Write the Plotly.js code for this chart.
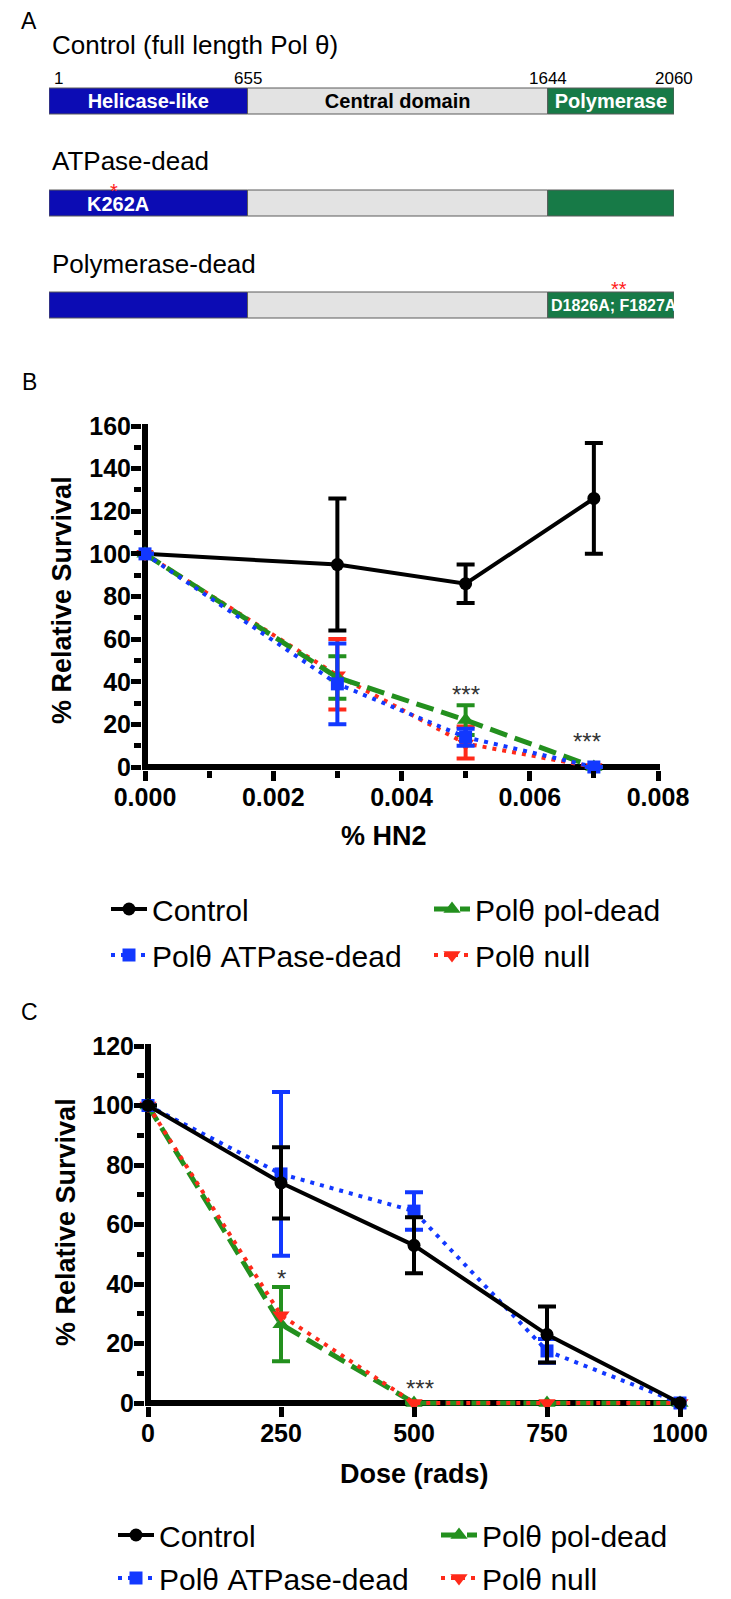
<!DOCTYPE html>
<html><head><meta charset="utf-8">
<script src="https://cdn.plot.ly/plotly-3.0.1.min.js"></script>
<style>html,body{margin:0;padding:0;background:#fff}</style>
</head><body><div id="chart" style="width:731px;height:1599px"></div>
<script>
// ---------- Panel A data ----------
const constructs = ['Control (full length Pol θ)', 'ATPase-dead', 'Polymerase-dead'];
const domainNames = ['Helicase-like', 'Central domain', 'Polymerase'];
const domainStart = [1, 655, 1644];
const domainEnd = [655, 1644, 2060];
const boundaryTicks = [1, 655, 1644, 2060];
const mutationLabels = ['K262A', 'D1826A; F1827A'];
const mutationResidue = [262, 1826];
const mutationStars = ['*', '**'];
const mutationConstruct = ['ATPase-dead', 'Polymerase-dead'];

// ---------- Panel B data (% HN2) ----------
const seriesNames = ['Control', 'Polθ pol-dead', 'Polθ ATPase-dead', 'Polθ null'];
const hn2Dose = [0, 0.003, 0.005, 0.007];
const hn2Control = [100, 95, 86, 126];
const hn2ControlErr = [null, 31, 9, 26];
const hn2AtpDead = [100, 39, 14, 0];
const hn2AtpDeadErr = [null, 19, 4, null];
const hn2PolDead = [100, 42, 22, 0];
const hn2PolDeadErr = [null, 10, 7, null];
const hn2Null = [100, 43, 11, 0];
const hn2NullErrPlus = [null, 17, 8, null];
const hn2NullErrMinus = [null, 16, 7, null];
const hn2StarText = ['***', '***'];
const hn2StarDose = [0.005, 0.0069];
const hn2StarY = [37, 15];

// ---------- Panel C data (Dose, rads) ----------
const irDose = [0, 250, 500, 750, 1000];
const irControl = [100, 74, 53, 23, 0];
const irControlErr = [null, 12, 9.4, 9.4, null];
const irAtpDead = [100, 77, 64.5, 17.5, 0];
const irAtpDeadErr = [null, 27.5, 6.3, 4, null];
const irPolDead = [100, 26.5, 0, 0, 0];
const irPolDeadErr = [null, 12.5, null, null, null];
const irNull = [100, 29.5, 0, 0, 0];
const irStarText = ['*', '***'];
const irStarDose = [250, 512];
const irStarY = [44, 7];

// ---------- layout helpers ----------
const W = 731, H = 1599;
const FONT = 'Liberation Sans, Arial, Helvetica, sans-serif';
function xDom(p0, p1, v0, v1, padLo, padHi) {
  const k = (p1 - p0) / (v1 - v0);
  return { domain: [(p0 - padLo) / W, (p1 + padHi) / W], range: [v0 - padLo / k, v1 + padHi / k] };
}
function yDom(pBottom, pTop, v0, v1, padLo, padHi) {
  const k = (pBottom - pTop) / (v1 - v0);
  return { domain: [1 - (pBottom + padLo) / H, 1 - (pTop - padHi) / H], range: [v0 - padLo / k, v1 + padHi / k] };
}
function chartAxis(geom, extra) {
  return Object.assign({
    domain: geom.domain, range: geom.range, autorange: false, fixedrange: true,
    showgrid: false, showline: false, zeroline: true, zerolinewidth: 6, zerolinecolor: '#000',
    ticks: 'outside', ticklen: 10, tickwidth: 5, tickcolor: '#000', ticklabelstandoff: -5,
    tickfont: { family: FONT, size: 25, color: '#000', weight: 'bold' }
  }, extra);
}
const minorTicks = (dt) => ({ dtick: dt, ticks: 'outside', ticklen: 7, tickwidth: 5, tickcolor: '#000' });

const styles = {
  control: { color: '#000000', width: 4, dash: 'solid' },
  atp: { color: '#1238ff', width: 4, dash: '4px,6px' },
  pol: { color: '#23901e', width: 5, dash: '18px,8px' },
  nul: { color: '#ff2a1a', width: 4, dash: '4px,6px' }
};
function series(name, x, y, errP, errM, st, symbol, size, xa, ya, legend, rank) {
  const t = {
    type: 'scatter', mode: 'lines+markers', name: name, x: x, y: y, xaxis: xa, yaxis: ya,
    legend: legend, legendrank: rank,
    line: { color: st.color, width: st.width, dash: st.dash },
    marker: { symbol: symbol, size: size, color: st.color },
    cliponaxis: false, hoverinfo: 'skip'
  };
  if (errP) {
    t.error_y = { type: 'data', array: errP, arrayminus: errM || errP, symmetric: !errM,
      color: st.color, thickness: 4, width: 9 };
  }
  return t;
}

const traces = [];
// Panel A: domain bars
const domainColors = ['#0c0cb4', '#e3e3e3', '#177a47'];
const domainTextColors = ['#ffffff', '#000000', '#ffffff'];
for (let d = 0; d < domainNames.length; d++) {
  traces.push({
    type: 'bar', orientation: 'h', xaxis: 'x3', yaxis: 'y3', showlegend: false,
    y: constructs, base: constructs.map(() => domainStart[d]),
    x: constructs.map(() => domainEnd[d] - domainStart[d]),
    width: 0.255,
    marker: { color: domainColors[d], line: { color: '#5a5a5a', width: 1 } },
    text: constructs.map((c, i) => i === 0 ? domainNames[d] : ''),
    textposition: 'inside', insidetextanchor: 'middle', constraintext: 'none',
    textfont: { family: FONT, size: 20, color: domainTextColors[d], weight: 'bold' },
    hoverinfo: 'skip'
  });
}

// Panel B traces (draw order: control, null, pol-dead, ATPase-dead)
traces.push(series(seriesNames[0], hn2Dose, hn2Control, hn2ControlErr, null, styles.control, 'circle', 13, 'x', 'y', 'legend', 1));
traces.push(series(seriesNames[3], hn2Dose, hn2Null, hn2NullErrPlus, hn2NullErrMinus, styles.nul, 'triangle-down', 15, 'x', 'y', 'legend4', 4));
traces.push(series(seriesNames[1], hn2Dose, hn2PolDead, hn2PolDeadErr, null, styles.pol, 'triangle-up', 15, 'x', 'y', 'legend2', 2));
traces.push(series(seriesNames[2], hn2Dose, hn2AtpDead, hn2AtpDeadErr, null, styles.atp, 'square', 13, 'x', 'y', 'legend3', 3));

// Panel C traces (draw order: pol-dead, null, ATPase-dead, control)
traces.push(series(seriesNames[1], irDose, irPolDead, irPolDeadErr, null, styles.pol, 'triangle-up', 15, 'x2', 'y2', 'legend6', 2));
traces.push(series(seriesNames[3], irDose, irNull, null, null, styles.nul, 'triangle-down', 15, 'x2', 'y2', 'legend8', 4));
traces.push(series(seriesNames[2], irDose, irAtpDead, irAtpDeadErr, null, styles.atp, 'square', 13, 'x2', 'y2', 'legend7', 3));
traces.push(series(seriesNames[0], irDose, irControl, irControlErr, null, styles.control, 'circle', 13, 'x2', 'y2', 'legend5', 1));

// ---------- geometry ----------
const xB = xDom(145, 658, 0, 0.008, 3, 2);
const yB = yDom(767, 426, 0, 160, 3, 2);
const xC = xDom(148, 680, 0, 1000, 3, 2);
const yC = yDom(1403, 1046, 0, 120, 3, 2);
const xA = xDom(49, 674, 1, 2060, 0, 0);

function legendAt(px, py) {
  return { x: px / W, y: 1 - py / H, xanchor: 'left', yanchor: 'middle', orientation: 'h',
    bgcolor: 'rgba(0,0,0,0)', borderwidth: 0, itemwidth: 36,
    font: { family: FONT, size: 30, color: '#000' },
    itemclick: false, itemdoubleclick: false };
}

const ann = [];
const base = { showarrow: false, xanchor: 'center', yanchor: 'middle' };
const letterFont = { family: FONT, size: 23, color: '#000' };
[['A', 21], ['B', 382], ['C', 1012]].forEach(([t, py]) => {
  ann.push(Object.assign({}, base, { text: t, xref: 'paper', yref: 'paper', x: 29 / W, y: 1 - py / H, font: letterFont }));
});
// construct names
const nameShift = [56, 42, 41];
constructs.forEach((c, i) => {
  ann.push(Object.assign({}, base, { text: c, xref: 'paper', x: 50 / W, xanchor: 'left', yref: 'y3', y: c,
    yshift: nameShift[i], font: { family: FONT, size: 26, color: '#000' } }));
});
// residue numbers
boundaryTicks.forEach((b, j) => {
  ann.push(Object.assign({}, base, { text: String(b), xref: 'x3', x: b, xanchor: j === 0 ? 'left' : 'center',
    xshift: j === 0 ? 3 : 0, yref: 'y3', y: constructs[0], yshift: 22,
    font: { family: FONT, size: 17, color: '#000' } }));
});
// mutations
const mutXShift = [-10, 11];
const mutSize = [20, 16];
const starXShift = [-14, 16];
const starYShift = [12, 16];
mutationLabels.forEach((m, i) => {
  ann.push(Object.assign({}, base, { text: m, xref: 'x3', x: mutationResidue[i], xshift: mutXShift[i], yref: 'y3',
    y: mutationConstruct[i], yshift: -1, font: { family: FONT, size: mutSize[i], color: '#ffffff', weight: 'bold' } }));
  ann.push(Object.assign({}, base, { text: mutationStars[i], xref: 'x3', x: mutationResidue[i], xshift: starXShift[i],
    yref: 'y3', y: mutationConstruct[i], yshift: starYShift[i], font: { family: FONT, size: 20, color: '#ff1a1a' } }));
});
// significance stars
hn2StarText.forEach((s, i) => ann.push(Object.assign({}, base, { text: s, xref: 'x', yref: 'y', x: hn2StarDose[i],
  y: hn2StarY[i], yshift: -6, font: { family: FONT, size: 24, color: '#333' } })));
irStarText.forEach((s, i) => ann.push(Object.assign({}, base, { text: s, xref: 'x2', yref: 'y2', x: irStarDose[i],
  y: irStarY[i], yshift: -6, font: { family: FONT, size: 24, color: '#333' } })));
// axis titles
const tFont = { family: FONT, size: 27, color: '#000', weight: 'bold' };
ann.push(Object.assign({}, base, { text: '% Relative Survival', xref: 'paper', yref: 'paper', x: 62 / W, y: 1 - 600 / H, textangle: -90, font: tFont }));
ann.push(Object.assign({}, base, { text: '% HN2', xref: 'paper', yref: 'paper', x: 384 / W, y: 1 - 836 / H, font: tFont }));
ann.push(Object.assign({}, base, { text: '% Relative Survival', xref: 'paper', yref: 'paper', x: 66 / W, y: 1 - 1222 / H, textangle: -90, font: tFont }));
ann.push(Object.assign({}, base, { text: 'Dose (rads)', xref: 'paper', yref: 'paper', x: 414 / W, y: 1 - 1474 / H, font: tFont }));

const layout = {
  width: W, height: H, margin: { l: 0, r: 0, t: 0, b: 0, autoexpand: false },
  paper_bgcolor: '#fff', plot_bgcolor: 'rgba(0,0,0,0)',
  font: { family: FONT, color: '#000' },
  showlegend: true, barmode: 'overlay',
  xaxis: chartAxis(xB, { anchor: 'y', tick0: 0, dtick: 0.002, tickformat: '.3f', minor: minorTicks(0.001) }),
  yaxis: chartAxis(yB, { anchor: 'x', tick0: 0, dtick: 20, minor: minorTicks(10) }),
  xaxis2: chartAxis(xC, { anchor: 'y2', tick0: 0, dtick: 250 }),
  yaxis2: chartAxis(yC, { anchor: 'x2', tick0: 0, dtick: 20, minor: minorTicks(10) }),
  xaxis3: { domain: xA.domain, range: xA.range, autorange: false, visible: false, anchor: 'y3', fixedrange: true },
  yaxis3: { domain: [1 - 356 / H, 1 - 50 / H], type: 'category', categoryarray: constructs, categoryorder: 'array',
    range: [2.5, -0.5], autorange: false, visible: false, anchor: 'x3', fixedrange: true },
  legend: legendAt(106, 909), legend2: legendAt(429, 909),
  legend3: legendAt(106, 955), legend4: legendAt(429, 955),
  legend5: legendAt(113, 1535), legend6: legendAt(436, 1535),
  legend7: legendAt(113, 1578), legend8: legendAt(436, 1578),
  annotations: ann
};

Plotly.newPlot('chart', traces, layout, { staticPlot: true, displayModeBar: false });
</script></body></html>
